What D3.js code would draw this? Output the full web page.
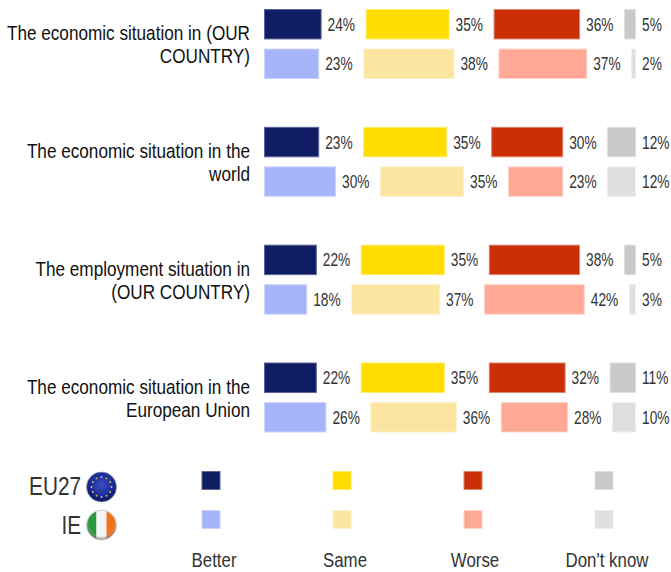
<!DOCTYPE html>
<html><head><meta charset="utf-8">
<script src="https://cdn.jsdelivr.net/npm/d3@7"></script>
<style>html,body{margin:0;background:#fff}svg{display:block}text{font-family:"Liberation Sans",sans-serif}</style>
</head><body><div id="c"></div>
<script>
const questions=[["The economic situation in (OUR","COUNTRY)"],["The economic situation in the","world"],["The employment situation in","(OUR COUNTRY)"],["The economic situation in the","European Union"]];
const responses=["Better","Same","Worse","Don't know"];
const regions=["EU27","IE"];
const eu27=[[24,35,36,5],[23,35,30,12],[22,35,38,5],[22,35,32,11]];
const ie=[[23,38,37,2],[30,35,23,12],[18,37,42,3],[26,36,28,10]];
const colors=[["#101d63","#ffdd00","#cc2e05","#c8c9cb"],["#a6b4fa","#fbe5a0","#fda996","#dfdfdf"]];
const strokes=[["#5c6597","#ffeb66","#e0826a","#dedfe0"],["#ccd4fd","#fdf1cb","#fed3c9","#eeeeee"]];

const W=671,H=572;
const svg=d3.select("#c").append("svg").attr("width",W).attr("height",H);
const defs=svg.append("defs");
const x=d3.scaleLinear().domain([0,100]).range([264,504]);
const gap=44;
const groupY=d3.scaleLinear().domain([0,3]).range([9,362.5]);
const rowY=d3.scaleBand().domain(regions).range([0,70]).paddingInner(0.23);
const series=[eu27,ie];
const ink="#333";

function label(parent,tx,ty,str,size,sx,anchor,fill){
  return parent.append("text").attr("transform",`translate(${tx},${ty}) scale(${sx},1)`)
    .attr("text-anchor",anchor).attr("font-size",size).attr("fill",fill).text(str);
}

questions.forEach((q,i)=>{
  const g=svg.append("g").attr("transform",`translate(0,${groupY(i)})`);
  q.forEach((l,k)=>label(g,250,31+k*23,l,19.5,.88,"end","#111"));
  regions.forEach((r,ri)=>{
    let cum=0;
    const row=g.append("g").attr("transform",`translate(0,${rowY(r)})`);
    series[ri][i].forEach((v,k)=>{
      const x0=x(cum)+k*gap, x1=x(cum+v)+k*gap;
      row.append("rect").attr("x",x0+.5).attr("y",.5).attr("width",x1-x0-1).attr("height",rowY.bandwidth()-1)
        .attr("fill",colors[ri][k]).attr("stroke",strokes[ri][k]).attr("stroke-width",1);
      label(row,x1+6,rowY.bandwidth()/2+6.5,v+"%",17.5,.785,"start",ink);
      cum+=v;
    });
  });
});

// legend
const legendX=d3.scalePoint().domain(responses).range([211,604]);
const legendY=d3.scalePoint().domain(regions).range([480.5,519.5]);
regions.forEach((r,ri)=>{
  responses.forEach((c,k)=>{
    svg.append("rect").attr("x",legendX(c)-9).attr("y",legendY(r)-9).attr("width",18).attr("height",18)
      .attr("fill",colors[ri][k]).attr("stroke",strokes[ri][k]);
  });
  label(svg,81,legendY(r)+14,r,25,.83,"end",ink);
});
const labelX=[214,345,475,607];
responses.forEach((c,k)=>label(svg,labelX[k],567,c,19.5,.865,"middle",ink));

// flags
const fx=101.5;
const eu=defs.append("radialGradient").attr("id","eu").attr("cx","50%").attr("cy","42%").attr("r","58%");
[[0,"#3a4cc0"],[0.65,"#1c2c9a"],[1,"#0b1250"]].forEach(s=>eu.append("stop").attr("offset",s[0]).attr("stop-color",s[1]));
const ey=487;
svg.append("circle").attr("cx",fx).attr("cy",ey).attr("r",15).attr("fill","url(#eu)").attr("stroke","#9aa0c4").attr("stroke-width",.7);
d3.range(12).forEach(i=>{const a=i*Math.PI/6;
  svg.append("circle").attr("cx",fx+10*Math.cos(a)).attr("cy",ey+10*Math.sin(a)).attr("r",.9).attr("fill","#d8cc50");});
const iy=525;
const clip=defs.append("clipPath").attr("id","ic");clip.append("circle").attr("cx",fx).attr("cy",iy).attr("r",14.5);
const fg=svg.append("g").attr("clip-path","url(#ic)");
[["#2a9a3c",-15],["#f4f4f4",-5],["#f0731c",5]].forEach(s=>fg.append("rect").attr("x",fx+s[1]).attr("y",iy-15).attr("width",10).attr("height",30).attr("fill",s[0]));
const sh=defs.append("radialGradient").attr("id","sh").attr("cx","50%").attr("cy","42%").attr("r","55%");
[[0,"#fff",0],[0.75,"#fff",0],[1,"#444",0.5]].forEach(s=>sh.append("stop").attr("offset",s[0]).attr("stop-color",s[1]).attr("stop-opacity",s[2]));
svg.append("circle").attr("cx",fx).attr("cy",iy).attr("r",15).attr("fill","url(#sh)").attr("stroke","#bbb").attr("stroke-width",.8);
</script></body></html>
